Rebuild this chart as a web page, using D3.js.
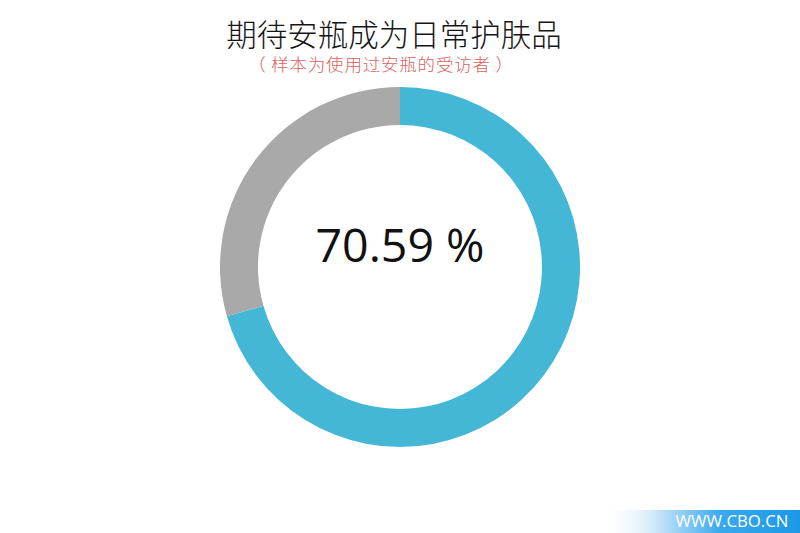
<!DOCTYPE html>
<html><head><meta charset="utf-8">
<script src="https://cdn.jsdelivr.net/npm/d3@7"></script>
<style>html,body{margin:0;padding:0;background:#fff;}svg{display:block;}</style>
</head><body>
<svg id="c" width="800" height="533"></svg>
<script>
const categories = ["期待", "不期待"];
const values = [70.59, 29.41];
const colors = ["#43b7d5", "#a9a9a9"];
const title = "期待安瓶成为日常护肤品";
const subtitle = "（ 样本为使用过安瓶的受访者 ）";
const centerLabel = "70.59 %";
const watermark = "WWW.CBO.CN";

const svg = d3.select("#c");
const cx = 400, cy = 267, outerR = 180, innerR = 142;

const defs = svg.append("defs");
const grad = defs.append("linearGradient").attr("id","wm").attr("x1","0").attr("x2","1").attr("y1","0").attr("y2","0");
grad.append("stop").attr("offset","0").attr("stop-color","#ffffff").attr("stop-opacity",0);
grad.append("stop").attr("offset","0.25").attr("stop-color","#d8ecfa");
grad.append("stop").attr("offset","0.6").attr("stop-color","#3aa9ec");
grad.append("stop").attr("offset","1").attr("stop-color","#1b98e6");
svg.append("rect").attr("x",600).attr("y",510).attr("width",200).attr("height",23).attr("fill","url(#wm)");
svg.append("text").attr("x",732).attr("y",527).attr("text-anchor","middle")
  .attr("font-family","'Open Sans', 'Noto Sans', sans-serif").attr("font-size",16.8).attr("fill","#fff").text(watermark);

const pie = d3.pie().sort(null).value(d => d)(values);
const arc = d3.arc().innerRadius(innerR).outerRadius(outerR);
svg.append("g").attr("transform",`translate(${cx},${cy})`)
  .selectAll("path").data(pie).join("path")
  .attr("d", arc).attr("fill", (d,i) => colors[i]);

svg.append("text").attr("x",cx).attr("y",262).attr("text-anchor","middle")
  .attr("font-family","'Open Sans', 'Noto Sans', sans-serif").attr("font-size",46.5).attr("fill","#111")
  .text(centerLabel);

svg.append("text").attr("x",394).attr("y",46).attr("text-anchor","middle")
  .attr("font-family","'Noto Sans CJK SC', sans-serif").attr("font-weight",300).attr("font-size",30.5).attr("fill","#161616")
  .text(title);
svg.append("text").attr("x",381).attr("y",71).attr("text-anchor","middle")
  .attr("font-family","'Noto Sans CJK SC', sans-serif").attr("font-weight",300).attr("font-size",17.5).attr("letter-spacing",0.8)
  .attr("fill","#d9625c").text(subtitle);
</script>
</body></html>
